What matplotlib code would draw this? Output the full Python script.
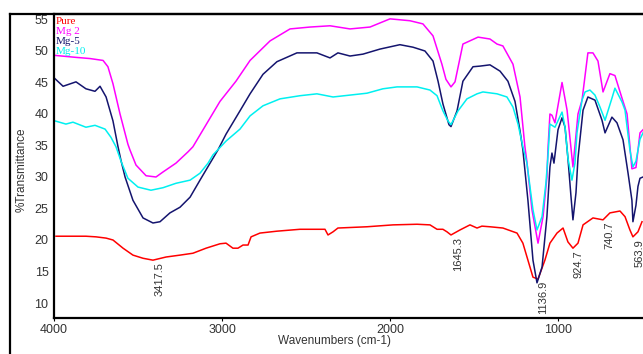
import matplotlib
matplotlib.use('Agg')
import matplotlib.pyplot as plt
from matplotlib.lines import Line2D

# spectra (wavenumber cm-1, %T)
pure_wn = [3988, 3905, 3810, 3750, 3690, 3649, 3589, 3530, 3470, 3411, 3333, 3250, 3173, 3095, 3012,
           2976, 2935, 2905, 2875, 2845, 2827, 2774, 2673, 2536, 2387, 2369, 2339, 2310, 2137, 1982,
           1839, 1762, 1720, 1685, 1661, 1637, 1583, 1524, 1482, 1453, 1405, 1328, 1244, 1209, 1179,
           1149, 1119, 1078, 1048, 1006, 970, 941, 911, 881, 851, 792, 732, 691, 631, 601,
           572, 554, 524, 500]
pure_t = [20.6, 20.6, 20.6, 20.5, 20.3, 20.0, 18.7, 17.6, 17.1, 16.8, 17.3, 17.6, 17.9, 18.7, 19.4,
          19.5, 18.7, 18.7, 19.2, 19.2, 20.5, 21.1, 21.4, 21.7, 21.7, 20.8, 21.3, 21.9, 22.1, 22.4,
          22.5, 22.4, 21.7, 21.7, 21.3, 20.8, 21.6, 22.4, 21.9, 22.2, 22.1, 21.9, 21.1, 19.5, 16.8,
          14.1, 13.8, 16.8, 19.5, 21.1, 21.9, 19.7, 18.7, 19.5, 22.4, 23.5, 23.2, 24.3, 24.6, 23.7,
          21.6, 20.5, 21.3, 22.9]

mg2_wn = [3994, 3875, 3786, 3708, 3679, 3649, 3607, 3560, 3548, 3512, 3452, 3393, 3351, 3274, 3202,
          3173, 3012, 2917, 2833, 2714, 2595, 2476, 2357, 2238, 2119, 2000, 1881, 1804, 1744, 1691,
          1667, 1637, 1613, 1566, 1476, 1405, 1363, 1328, 1268, 1226, 1197, 1185, 1155, 1119, 1089,
          1066, 1060, 1048, 1036, 1018, 976, 946, 911, 881, 857, 822, 792, 762, 732, 691,
          661, 619, 589, 560, 536, 512, 494]
mg2_t = [49.3, 49.0, 48.8, 48.5, 47.5, 44.8, 40.0, 35.2, 34.3, 31.9, 30.2, 30.0, 30.8, 32.2, 34.0,
         34.8, 42.0, 45.2, 48.5, 51.6, 53.5, 53.8, 54.0, 53.5, 53.8, 55.1, 54.8, 54.3, 52.4, 47.9,
         45.5, 44.3, 45.1, 51.1, 52.2, 51.9, 51.1, 50.8, 47.9, 42.7, 34.8, 32.4, 24.8, 19.5, 23.7,
         30.0, 34.3, 40.0, 39.8, 38.6, 45.0, 40.6, 31.6, 40.0, 42.2, 49.7, 49.7, 48.4, 43.5, 46.4,
         46.1, 42.5, 40.0, 31.3, 31.5, 37.0, 37.5]

mg5_wn = [3994, 3946, 3869, 3810, 3756, 3726, 3690, 3649, 3619, 3601, 3577, 3530, 3470, 3411, 3369,
          3310, 3250, 3190, 3131, 3071, 3024, 2976, 2893, 2833, 2756, 2673, 2554, 2435, 2357, 2310,
          2238, 2161, 2060, 1941, 1863, 1792, 1744, 1714, 1685, 1649, 1637, 1601, 1566, 1506, 1464,
          1405, 1345, 1298, 1256, 1226, 1209, 1179, 1149, 1125, 1095, 1066, 1048, 1036, 1024, 1000,
          976, 958, 941, 923, 911, 893, 881, 851, 822, 780, 738, 720, 679, 649, 613,
          583, 560, 554, 536, 524, 512, 494]
mg5_t = [45.6, 44.4, 45.1, 44.0, 43.6, 44.4, 42.7, 38.9, 34.8, 32.6, 30.0, 26.3, 23.5, 22.7, 22.9,
         24.3, 25.2, 26.8, 29.5, 32.2, 34.3, 36.8, 40.5, 43.2, 46.3, 48.3, 49.7, 49.7, 48.9, 49.7,
         49.2, 49.5, 50.3, 51.0, 50.6, 50.0, 48.4, 45.2, 41.6, 38.3, 38.0, 40.5, 45.2, 47.5, 47.6,
         47.8, 46.8, 45.2, 42.0, 37.3, 34.3, 26.3, 16.8, 13.2, 15.7, 23.7, 31.6, 33.8, 32.2, 37.5,
         39.4, 37.9, 33.0, 27.0, 23.2, 27.5, 33.0, 40.6, 42.7, 42.2, 39.0, 37.0, 39.5, 38.6, 35.9,
         30.6, 26.3, 22.9, 25.5, 28.5, 29.8, 30.0]

mg10_wn = [3994, 3929, 3887, 3810, 3756, 3696, 3661, 3631, 3601, 3560, 3500, 3423, 3351, 3274, 3190,
           3131, 3083, 3054, 2976, 2893, 2833, 2756, 2655, 2536, 2435, 2339, 2238, 2137, 2042, 1958,
           1839, 1762, 1720, 1685, 1655, 1637, 1595, 1542, 1482, 1447, 1363, 1304, 1268, 1238, 1209,
           1185, 1149, 1125, 1095, 1072, 1060, 1048, 1018, 976, 958, 941, 917, 899, 887, 857,
           839, 810, 780, 750, 720, 679, 661, 619, 601, 572, 554, 536, 512, 494]
mg10_t = [38.9, 38.4, 38.7, 37.9, 38.2, 37.6, 36.3, 34.8, 32.5, 29.8, 28.4, 27.9, 28.3, 29.0, 29.5,
          30.6, 32.2, 33.5, 35.7, 37.6, 39.7, 41.3, 42.4, 42.9, 43.2, 42.7, 43.0, 43.3, 44.0, 44.3,
          44.3, 43.8, 42.9, 40.5, 38.9, 38.3, 40.5, 42.4, 43.2, 43.5, 43.2, 42.7, 41.1, 38.4, 34.8,
          32.2, 24.8, 21.6, 23.7, 29.0, 33.2, 38.4, 37.9, 40.3, 37.9, 33.0, 29.5, 32.2, 37.0, 42.2,
          43.5, 43.8, 43.0, 41.1, 39.0, 42.5, 44.1, 41.9, 40.6, 34.3, 31.6, 32.5, 36.0, 37.0]

series_names = ['Pure', 'Mg 2', 'Mg-5', 'Mg-10']
series_colors = ['#ff0000', '#ff00ff', '#14146e', '#00f0f0']

# peak labels on the Pure spectrum
peak_wn = [3417.5, 1645.3, 1136.9, 924.7, 740.7, 563.9]
peak_t = [16.8, 20.8, 13.8, 18.7, 23.2, 20.5]

W, H = 643, 354
fig = plt.figure(figsize=(W / 100, H / 100), dpi=100)
ax = fig.add_axes([54 / W, 36 / H, 604.8 / W, 304 / H])

data = [(pure_wn, pure_t), (mg2_wn, mg2_t), (mg5_wn, mg5_t), (mg10_wn, mg10_t)]
for (wn, t), c in zip(data, series_colors):
    ax.plot(wn, t, color=c, lw=1.1)

ax.set_xlim(4000, 400)
ax.set_ylim(7.62, 55.87)
ax.set_xticks([4000, 3000, 2000, 1000])
ax.set_yticks(range(10, 56, 5))

for lab in ax.get_xticklabels() + ax.get_yticklabels():
    lab.set_fontfamily('Liberation Sans')
    lab.set_fontsize(9)
    lab.set_color('#333333')
ax.tick_params(axis='x', length=2.5, width=0.8, pad=1.5)
ax.tick_params(axis='y', length=0, pad=4)

for side in ['left', 'bottom', 'top']:
    ax.spines[side].set_linewidth(1.6)
ax.spines['right'].set_visible(False)

fig.text(334 / W, 1 - 341 / H, 'Wavenumbers (cm-1)', ha='center', va='center',
         family='Liberation Sans', fontsize=8.5, color='#333333')
fig.text(22 / W, 1 - 170 / H, '%Transmittance', ha='center', va='center', rotation=90,
         family='Liberation Sans', fontsize=8.5, color='#333333')

# legend as coloured text lines
for i, (name, c) in enumerate(zip(series_names, series_colors)):
    fig.text(56 / W, 1 - (24 + 10 * i) / H, name, color=c, family='Liberation Serif',
             fontsize=8.0, va='baseline', ha='left')

for wn, t in zip(peak_wn, peak_t):
    ax.annotate(f'{wn:.1f}', xy=(wn, t), xytext=(2.2, -1.5), textcoords='offset points',
                rotation=90, ha='left', va='top', fontsize=8, family='Liberation Sans',
                color='#333333', annotation_clip=False)

# outer frame
fig.add_artist(Line2D([10 / W, 10 / W], [0, 1 - 14 / H], transform=fig.transFigure,
                      color='black', lw=1.6))
fig.add_artist(Line2D([10 / W, 1], [1 - 14 / H, 1 - 14 / H], transform=fig.transFigure,
                      color='black', lw=1.6))

fig.savefig('out.png', dpi=100)
